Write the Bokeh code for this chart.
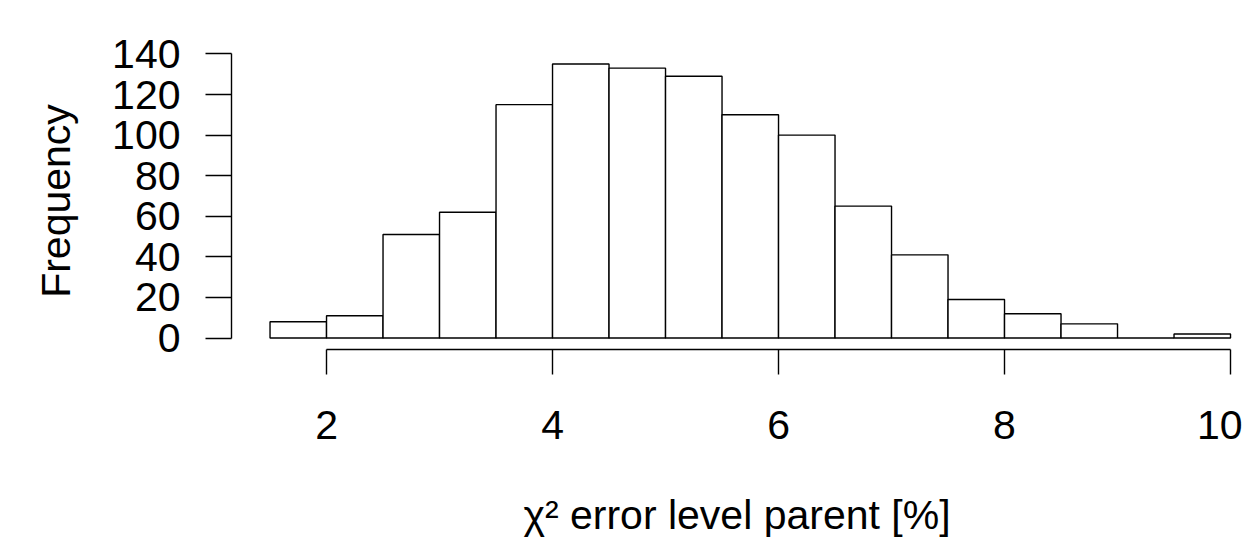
from bokeh.plotting import figure
from bokeh.models import Range1d, FixedTicker
from bokeh.embed import file_html
from bokeh.resources import INLINE

# Histogram data (bin edges, width 0.5)
bin_left = [1.5, 2.0, 2.5, 3.0, 3.5, 4.0, 4.5, 5.0, 5.5, 6.0, 6.5, 7.0, 7.5, 8.0, 8.5, 9.0, 9.5]
bin_right = [2.0, 2.5, 3.0, 3.5, 4.0, 4.5, 5.0, 5.5, 6.0, 6.5, 7.0, 7.5, 8.0, 8.5, 9.0, 9.5, 10.0]
counts = [8, 11, 51, 62, 115, 135, 133, 129, 110, 100, 65, 41, 19, 12, 7, 0, 2]
x_ticks = [2, 4, 6, 8, 10]
y_ticks = [0, 20, 40, 60, 80, 100, 120, 140]
x_title = "\u03c7\u00b2 error level parent [%]"
y_title = "Frequency"

FONT = "Liberation Sans"
FS = "41px"

p = figure(width=1242, height=540, output_backend="svg", toolbar_location=None,
           x_range=Range1d(1.159, 10.106), y_range=Range1d(-5.65, 140.7),
           min_border_left=231, min_border_right=0, min_border_top=52,
           min_border_bottom=190)

p.quad(left=bin_left, right=bin_right, top=counts, bottom=[0] * len(counts),
       fill_color="white", line_color="black", line_width=1.4)

p.grid.visible = False
p.outline_line_color = None
p.background_fill_color = "white"
p.border_fill_color = "white"

xa = p.xaxis[0]
xa.ticker = FixedTicker(ticks=x_ticks)
xa.bounds = (2, 10)
xa.minor_tick_line_color = None
xa.major_tick_out = 25
xa.major_tick_in = 0
xa.major_label_standoff = 36
xa.axis_label = x_title
xa.axis_label_standoff = 50
xa.axis_label_text_font_style = "normal"

ya = p.yaxis[0]
ya.ticker = FixedTicker(ticks=y_ticks)
ya.bounds = (0, 140)
ya.minor_tick_line_color = None
ya.major_tick_out = 26
ya.major_tick_in = 0
ya.major_label_standoff = 25
ya.major_label_orientation = "horizontal"
ya.axis_label = y_title
ya.axis_label_standoff = 30
ya.axis_label_text_font_style = "normal"

for ax in (xa, ya):
    ax.axis_line_color = "black"
    ax.axis_line_width = 1.4
    ax.major_tick_line_color = "black"
    ax.major_tick_line_width = 1.4
    ax.major_label_text_font = FONT
    ax.major_label_text_font_size = FS
    ax.major_label_text_color = "black"
    ax.axis_label_text_font = FONT
    ax.axis_label_text_font_size = FS
    ax.axis_label_text_color = "black"

open("out.html", "w").write(file_html(p, INLINE))
